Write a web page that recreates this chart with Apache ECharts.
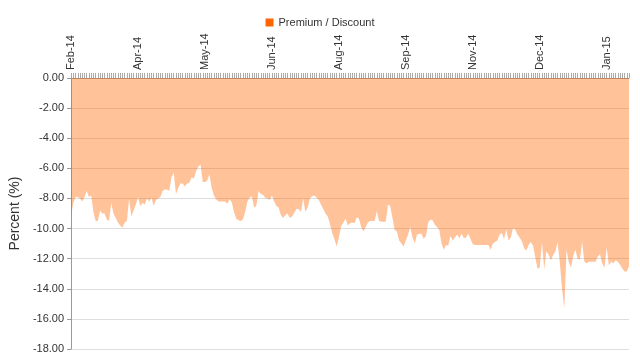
<!DOCTYPE html>
<html>
<head>
<meta charset="utf-8">
<script src="https://cdn.jsdelivr.net/npm/echarts@6/dist/echarts.min.js"></script>
<style>html,body{margin:0;padding:0;background:#fff}#c{width:640px;height:360px}</style>
</head>
<body>
<div id="c"></div>
<script>
const seriesName = 'Premium / Discount';
const xTickLabels = ['Feb-14','Apr-14','May-14','Jun-14','Aug-14','Sep-14','Nov-14','Dec-14','Jan-15'];
const yTickValues = [0,-2,-4,-6,-8,-10,-12,-14,-16,-18];
const premiumDiscount = [
-9.1,-8.3,-7.9,-7.9,-8.0,-8.2,-7.9,-7.5,-7.9,-7.8,
-8.9,-9.5,-9.5,-8.8,-9.0,-9.0,-9.4,-9.5,-8.3,-9.0,
-9.3,-9.6,-9.8,-9.95,-9.6,-9.5,-8.0,-9.2,-8.8,-8.4,
-7.9,-8.5,-8.3,-8.4,-8.0,-8.2,
-7.95,-8.5,-8.1,-8.0,-7.9,-7.5,-7.4,-7.4,-7.5,-6.6,
-6.3,-7.7,-7.3,-7.0,-7.0,-7.2,-7.0,-6.95,-6.6,-6.7,
-6.2,-5.9,-5.75,-6.9,-6.9,-6.8,-6.4,-7.3,-7.8,-8.05,
-8.2,-8.2,-8.2,-8.2,-8.35,-8.05,
-8.25,-8.9,-9.35,-9.45,-9.5,-9.4,-8.9,-8.2,-7.95,-7.85,
-8.6,-8.5,-7.5,-7.7,-7.75,-7.95,-8.0,-8.1,-7.8,-8.2,
-8.5,-8.6,-9.1,-9.3,-9.1,-9.0,-9.3,-9.2,-8.95,-8.7,
-8.7,-8.9,-8.0,-8.9,-8.6,-8.0,
-7.85,-7.8,-7.95,-8.1,-8.4,-8.7,-9.0,-9.2,-9.7,-10.3,
-10.7,-11.2,-10.6,-9.85,-9.6,-9.35,-9.8,-9.65,-9.6,
-9.65,-9.25,-9.35,-9.9,-10.2,-9.9,-9.6,-9.5,-9.5,-9.5,
-8.85,-9.5,-9.55,-9.55,-9.55,-8.4,-8.5,-9.3,-10.1,-10.2,
-10.8,-11.0,-11.2,-10.8,-10.4,-9.9,-10.6,-11.0,-10.4,-10.35,
-10.35,-10.7,-10.5,-9.6,-9.4,-9.45,-9.75,-9.9,-10.1,-11.0,
-11.4,-11.1,-11.15,-10.5,-10.8,-10.6,-10.4,-10.65,-10.35,-10.65,
-10.6,-10.35,-10.7,-11.05,-11.1,-11.1,-11.1,-11.1,-11.1,-11.1,
-11.1,-11.4,-11.0,-10.9,-10.8,-10.4,-10.3,-10.7,-10.05,-10.8,
-10.6,-10.0,-10.05,-10.4,-10.6,-10.85,-11.3,-11.45,-11.1,-10.9,
-11.15,-11.9,-12.65,-12.6,-10.9,-12.7,-11.5,-11.75,-12.1,-11.75,
-11.5,-10.9,-12.25,-14.0,-15.3,-11.4,-12.2,-12.6,-11.8,-11.4,
-12.0,-12.05,-10.9,-12.2,-12.3,-12.2,-12.2,-12.2,-12.2,-11.85,
-11.7,-12.3,-12.6,-11.25,-12.45,-12.2,-12.3,-12.1,-12.2,-12.4,
-12.65,-12.85,-12.85,-12.5
];
const labelEvery = 30;
const categories = premiumDiscount.map((_, i) => String(i));

const chart = echarts.init(document.getElementById('c'), null, {renderer: 'canvas'});
const font = 'Liberation Sans, Arial, sans-serif';
chart.setOption({
  animation: false,
  textStyle: {fontFamily: font},
  legend: {
    top: 12, left: 'center',
    icon: 'rect', itemWidth: 8, itemHeight: 8, itemGap: 10,
    textStyle: {fontFamily: font, fontSize: 11, color: '#333'},
    data: [seriesName]
  },
  grid: {left: 69, right: 11, top: 78, bottom: 11, containLabel: false},
  xAxis: {
    type: 'category',
    position: 'top',
    boundaryGap: false,
    data: categories,
    axisLine: {lineStyle: {color: '#999'}},
    axisTick: {show: true, interval: 0, length: 5, lineStyle: {color: '#aaa'}},
    axisLabel: {
      interval: labelEvery - 1,
      rotate: 90,
      margin: 8,
      fontSize: 11,
      color: '#333',
      fontFamily: font,
      formatter: (v, idx) => xTickLabels[Math.round(idx / labelEvery)] || ''
    },
    splitLine: {show: false}
  },
  yAxis: {
    type: 'value',
    min: yTickValues[yTickValues.length - 1],
    max: yTickValues[0],
    interval: 2,
    name: 'Percent (%)',
    nameLocation: 'middle',
    nameGap: 40,
    nameTextStyle: {fontSize: 14, color: '#333', fontFamily: font},
    axisLine: {show: true, lineStyle: {color: '#999'}},
    axisTick: {show: true, length: 4, lineStyle: {color: '#999'}},
    axisLabel: {fontSize: 11, color: '#333', margin: 7, fontFamily: font,
      formatter: v => v.toFixed(2)},
    splitLine: {show: true, lineStyle: {color: '#ddd'}}
  },
  series: [{
    name: seriesName,
    type: 'line',
    data: premiumDiscount,
    symbol: 'none',
    color: '#FF6600',
    lineStyle: {width: 0},
    areaStyle: {color: '#FF6600', opacity: 0.4, origin: 'auto'}
  }]
});
</script>
</body>
</html>
